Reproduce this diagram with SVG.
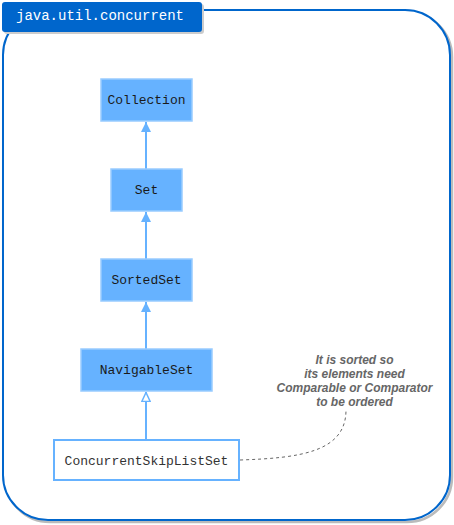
<svg xmlns="http://www.w3.org/2000/svg" width="454" height="525" viewBox="0 0 454 525">
<style>
.node rect{fill:#66b2ff;stroke:#99ccff;stroke-width:1.5}
.lbl{font-family:"Liberation Mono","DejaVu Sans Mono",monospace;font-size:13px;fill:#1a1a1a;text-anchor:middle;dominant-baseline:central}
.edge{stroke:#66b2ff;stroke-width:2;fill:none}
.note{font-family:"Liberation Sans",Arial,sans-serif;font-size:12px;font-weight:bold;font-style:italic;fill:#666;text-anchor:middle;dominant-baseline:central}
</style>
<defs>
<marker id="filled" viewBox="0 0 10 10" refX="10" refY="5" markerWidth="10" markerHeight="10" markerUnits="userSpaceOnUse" orient="auto">
<path d="M0,0 L10,5 L0,10 z" fill="#66b2ff"/>
</marker>
<marker id="hollow" viewBox="0 0 10 10" refX="10" refY="5" markerWidth="10" markerHeight="10" markerUnits="userSpaceOnUse" orient="auto">
<path d="M0.5,0.8 L9.5,5 L0.5,9.2 z" fill="#fff" stroke="#66b2ff" stroke-width="1.5"/>
</marker>
</defs>
<g id="container">
<rect x="5" y="12" width="447" height="510" rx="45" fill="none" stroke="#bbb" stroke-width="2.5"/>
<rect x="3" y="10" width="447" height="510" rx="45" fill="#fff" stroke="#0066cc" stroke-width="2"/>
<rect x="4" y="4" width="200" height="30" rx="3" fill="#ccc"/>
<rect x="2" y="2" width="200" height="30" rx="3" fill="#0066cc"/>
<text x="100" y="16" font-family="Liberation Mono,DejaVu Sans Mono,monospace" font-size="14" fill="#fff" text-anchor="middle" dominant-baseline="central">java.util.concurrent</text>
</g>
<g id="connectors">
<path class="edge" d="M146,169 L146,122" marker-end="url(#filled)"/>
<path class="edge" d="M146,259 L146,212" marker-end="url(#filled)"/>
<path class="edge" d="M146,349 L146,302" marker-end="url(#filled)"/>
<path class="edge" d="M146,440 L146,392" marker-end="url(#hollow)"/>
<path d="M240,460 C300,458 346,452 346,410" fill="none" stroke="#666" stroke-width="1" stroke-dasharray="3,3"/>
</g>
<g id="Collection" class="node"><rect x="101" y="79" width="91" height="42"/><text class="lbl" x="146.5" y="100">Collection</text></g>
<g id="Set" class="node"><rect x="111" y="169" width="71" height="42"/><text class="lbl" x="146.5" y="190">Set</text></g>
<g id="SortedSet" class="node"><rect x="101" y="259" width="91" height="42"/><text class="lbl" x="146.5" y="280">SortedSet</text></g>
<g id="NavigableSet" class="node"><rect x="81" y="349" width="131" height="42"/><text class="lbl" x="146.5" y="370">NavigableSet</text></g>
<g id="ConcurrentSkipListSet"><rect x="54" y="440" width="185" height="40" fill="#fff" stroke="#66b2ff" stroke-width="2"/><text class="lbl" x="146.5" y="461" style="fill:#333">ConcurrentSkipListSet</text></g>
<g id="note">
<text class="note" x="354.5" y="360">It is sorted so</text>
<text class="note" x="354.5" y="374">its elements need</text>
<text class="note" x="354.5" y="388">Comparable or Comparator</text>
<text class="note" x="354.5" y="402">to be ordered</text>
</g>
</svg>
